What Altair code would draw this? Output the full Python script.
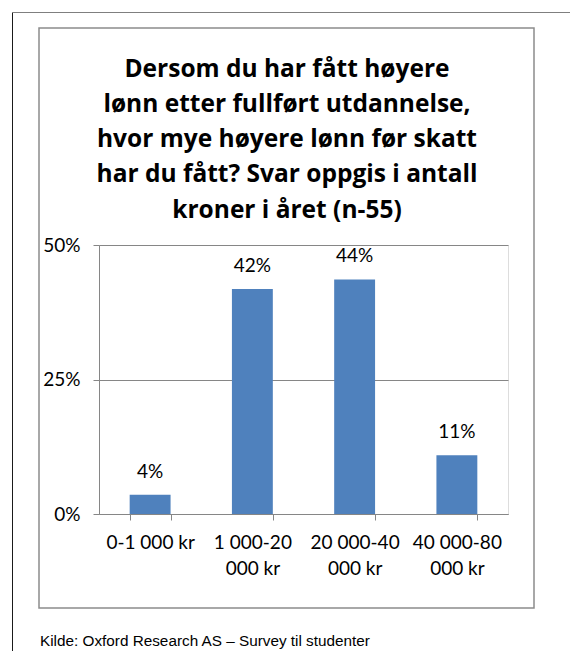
import altair as alt
import pandas as pd

# ---- data ----
categories = ["0-1 000 kr", "1 000-20 000 kr", "20 000-40 000 kr", "40 000-80 000 kr"]
shares = [0.036, 0.418, 0.436, 0.109]
share_labels = ["4%", "42%", "44%", "11%"]
title_lines = [
    "Dersom du har fått høyere",
    "lønn etter fullført utdannelse,",
    "hvor mye høyere lønn før skatt",
    "har du fått? Svar oppgis i antall",
    "kroner i året (n-55)",
]
y_ticks = [0, 0.25, 0.5]
source_text = ["Kilde: Oxford Research AS – Survey til studenter"]

df = pd.DataFrame({"cat": categories, "share": shares, "lab": share_labels})
src = pd.DataFrame({"t": source_text})
ttl = pd.DataFrame({"t": ["\n".join(title_lines)]})
one = pd.DataFrame({"k": [0]})

FONT = "Lato"
GRAY = "#868686"
BLUE = "#4F81BD"

x_enc = alt.X(
    "cat:N",
    sort=categories,
    title=None,
    scale=alt.Scale(paddingInner=0.6, paddingOuter=0.3),
    axis=alt.Axis(
        labelAngle=0,
        labelFont=FONT,
        labelFontSize=19,
        labelColor="#000000",
        labelPadding=13,
        labelLineHeight=26,
        labelExpr="length(datum.label) > 12 ? [slice(datum.label, 0, -7), slice(datum.label, -6)] : datum.label",
        tickBand="extent",
        tickSize=6,
        tickColor=GRAY,
        domainColor=GRAY,
        grid=False,
    ),
)
y_enc = alt.Y(
    "share:Q",
    title=None,
    scale=alt.Scale(domain=[0, 0.5], nice=False),
    axis=alt.Axis(
        values=y_ticks,
        format=".0%",
        labelFont=FONT,
        labelFontSize=19,
        labelColor="#000000",
        labelPadding=13,
        tickSize=6,
        tickColor=GRAY,
        domainColor=GRAY,
        gridColor=GRAY,
        gridWidth=1,
    ),
)

bars = alt.Chart(df).mark_bar(color=BLUE).encode(x=x_enc, y=y_enc)
labels = alt.Chart(df).mark_text(
    font=FONT, fontSize=19, color="#000000", baseline="alphabetic", dy=-17
).encode(x=alt.X("cat:N", sort=categories), y="share:Q", text="lab:N")

# decorative frames (pixel positions relative to the plot area)
outer_left = alt.Chart(one).mark_rule(color="#1a1a1a", strokeWidth=1).encode(
    x=alt.value(-86.5), y=alt.value(-233), y2=alt.value(406)
)
outer_top = alt.Chart(one).mark_rule(color="#7f7f7f", strokeWidth=1).encode(
    x=alt.value(-87), x2=alt.value(471), y=alt.value(-232.5)
)
inner_box = alt.Chart(one).mark_rect(
    fill="transparent", stroke="#8c8c8c", strokeWidth=1.5
).encode(
    x=alt.value(-60), x2=alt.value(435), y=alt.value(-217), y2=alt.value(363)
)
title = alt.Chart(ttl).mark_text(
    font="Open Sans", fontSize=24.5, fontWeight="bold", color="#000000",
    align="center", baseline="alphabetic", lineBreak="\n", lineHeight=35.3,
).encode(x=alt.value(188), y=alt.value(-168.5), text="t:N")
source = alt.Chart(src).mark_text(
    font="Liberation Sans", fontSize=15.3, color="#000000", align="left", baseline="alphabetic"
).encode(x=alt.value(-59), y=alt.value(401), text="t:N")

chart = (
    alt.layer(outer_left, outer_top, inner_box, bars, labels, title, source)
    .properties(
        width=409,
        height=269,
        autosize=alt.AutoSizeParams(type="none"),
        padding={"left": 91, "top": 237, "right": 62, "bottom": 137},
    )
    .configure_view(stroke=None)
    .configure(background="white")
)

chart.save("out.html", embed_options={"renderer": "svg", "actions": False})
